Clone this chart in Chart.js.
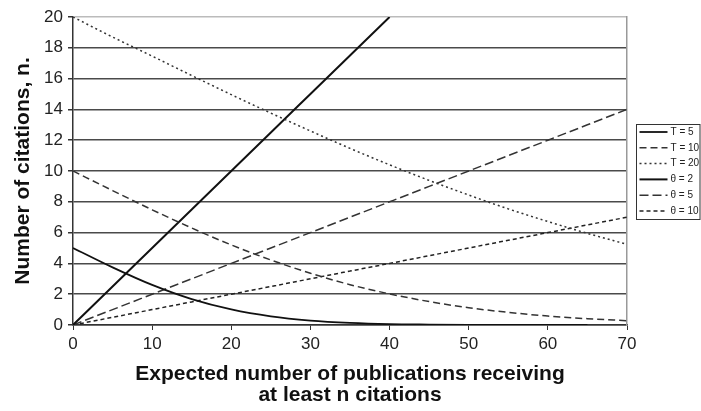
<!DOCTYPE html>
<html>
<head>
<meta charset="utf-8">
<script src="https://cdn.jsdelivr.net/npm/chart.js@4"></script>
<style>
  html, body { margin: 0; padding: 0; background: #fff; overflow: hidden; }
  #wrap { width: 701px; height: 411px; position: relative; }
</style>
</head>
<body>
<div id="wrap"><canvas id="citeChart"></canvas></div>
<script>
// x positions (expected number of publications)
const xSteps = [0, 5, 10, 15, 20, 25, 30, 35, 40, 45, 50, 55, 60, 65, 70];

// curves
const tFive = [5, 3.74, 2.6, 1.68, 1.01, 0.56, 0.29, 0.14, 0.06, 0.03, 0.01, 0, 0, 0];
const tTen = [10, 8.73, 7.48, 6.3, 5.2, 4.22, 3.36, 2.62, 2.02, 1.52, 1.12, 0.82, 0.58, 0.41, 0.28];
const tTwenty = [20, 18.7, 17.46, 16.2, 14.96, 13.76, 12.6, 11.47, 10.4, 9.39, 8.44, 7.54, 6.72, 5.95, 5.24];
const thetaTwo = [0, 2.5, 5, 7.5, 10, 12.5, 15, 17.5, 20];
const thetaFive = [0, 1, 2, 3, 4, 5, 6, 7, 8, 9, 10, 11, 12, 13, 14];
const thetaTen = [0, 0.5, 1, 1.5, 2, 2.5, 3, 3.5, 4, 4.5, 5, 5.5, 6, 6.5, 7];

const seriesLabels = ['T = 5', 'T = 10', 'T = 20', 'θ = 2', 'θ = 5', 'θ = 10'];
const xTicks = [0, 10, 20, 30, 40, 50, 60, 70];
const yTicks = [0, 2, 4, 6, 8, 10, 12, 14, 16, 18, 20];

const FONT = "'Liberation Sans', Arial, sans-serif";

function pts(values) {
    return values.map((v, i) => ({ x: xSteps[i], y: v }));
}

const lineStyles = [
    { borderColor: '#111', borderWidth: 1.8, borderDash: [] },
    { borderColor: '#333', borderWidth: 1.5, borderDash: [7, 4] },
    { borderColor: '#333', borderWidth: 1.5, borderDash: [2, 3] },
    { borderColor: '#111', borderWidth: 2, borderDash: [] },
    { borderColor: '#333', borderWidth: 1.5, borderDash: [9, 4] },
    { borderColor: '#222', borderWidth: 1.5, borderDash: [4, 3] }
];

const allSeries = [tFive, tTen, tTwenty, thetaTwo, thetaFive, thetaTen];

const datasets = allSeries.map((s, i) => Object.assign({
    label: seriesLabels[i],
    data: pts(s),
    pointRadius: 0,
    fill: false,
    cubicInterpolationMode: 'monotone'
}, lineStyles[i]));

// legend box at the right, drawn from the datasets
const boxLegend = {
    id: 'boxLegend',
    afterDraw(chart) {
        const c = chart.ctx;
        const area = chart.chartArea;
        const left = area.right + 9.5;
        const top = 124.5;
        c.save();
        c.strokeStyle = '#333';
        c.lineWidth = 1;
        c.strokeRect(left, top, 701 - left - 1, 95);
        c.font = '10px ' + FONT;
        c.textBaseline = 'middle';
        c.fillStyle = '#222';
        chart.data.datasets.forEach((ds, i) => {
            const y = top + 7.5 + i * 15.8;
            c.beginPath();
            c.setLineDash(ds.borderDash);
            c.strokeStyle = ds.borderColor;
            c.lineWidth = ds.borderWidth;
            c.moveTo(left + 3, y);
            c.lineTo(left + 31, y);
            c.stroke();
            c.setLineDash([]);
            c.fillText(ds.label, left + 34, y);
        });
        c.restore();
    }
};

const ctx = document.getElementById('citeChart').getContext('2d');

const citeChart = new Chart(ctx, {
    type: 'line',
    data: { datasets: datasets },
    options: {
        responsive: true,
        maintainAspectRatio: false,
        animation: false,
        layout: { padding: { top: 17, right: 74, left: 0, bottom: 0 } },
        plugins: {
            legend: { display: false },
            tooltip: { enabled: false }
        },
        scales: {
            x: {
                type: 'linear',
                min: 0,
                max: 70,
                afterBuildTicks: (s) => { s.ticks = xTicks.map(v => ({ value: v })); },
                afterFit: (s) => { s.height = 86; },
                grid: { display: true, drawOnChartArea: false, drawTicks: true, tickLength: 5, tickColor: '#333' },
                border: { display: true, color: '#333', width: 1.5 },
                ticks: { color: '#222', padding: 4, font: { family: FONT, size: 17, lineHeight: 1.2 } },
                title: {
                    display: true,
                    text: ['Expected number of publications receiving', 'at least n citations'],
                    color: '#111',
                    font: { family: FONT, size: 21, weight: 'bold', lineHeight: 1.02 },
                    padding: { top: 0, bottom: 5 }
                }
            },
            y: {
                min: 0,
                max: 20,
                afterBuildTicks: (s) => { s.ticks = yTicks.map(v => ({ value: v })); },
                afterFit: (s) => { s.width = 73; },
                grid: {
                    color: (c) => (c.tick && c.tick.value === 20 ? '#bbb' : '#4a4a4a'),
                    lineWidth: 1.5,
                    drawTicks: true,
                    tickLength: 5,
                    tickColor: '#333'
                },
                border: { display: true, color: '#333', width: 1.5 },
                ticks: { color: '#222', padding: 5, font: { family: FONT, size: 17 } },
                title: {
                    display: true,
                    text: 'Number of citations, n.',
                    color: '#111',
                    font: { family: FONT, size: 21, weight: 'bold', lineHeight: 1.05 },
                    padding: { top: 12, bottom: 0 }
                }
            },
            yRight: {
                position: 'right',
                min: 0,
                max: 20,
                afterFit: (s) => { s.width = 0; },
                grid: { display: false },
                ticks: { display: false },
                border: { display: true, color: '#999', width: 1.5 }
            }
        }
    },
    plugins: [boxLegend]
});
</script>
</body>
</html>
